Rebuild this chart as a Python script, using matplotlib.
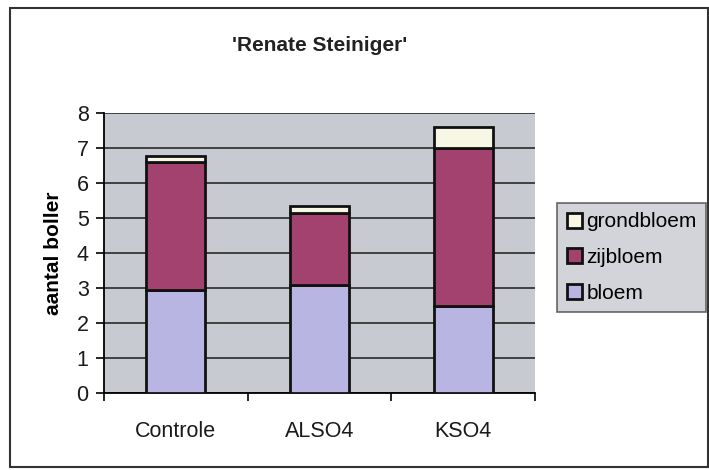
import matplotlib
matplotlib.use("Agg")
import matplotlib.pyplot as plt
import numpy as np
from matplotlib.patches import Rectangle

# data
categories = ["Controle", "ALSO4", "KSO4"]
bloem = [2.95, 3.1, 2.5]
zijbloem = [3.64, 2.03, 4.5]
grondbloem = [0.19, 0.2, 0.6]

plt.rcParams['font.family'] = ['Liberation Sans', 'DejaVu Sans']

fig = plt.figure(figsize=(7.09, 4.70), dpi=100)
ax = fig.add_axes([0.1467, 0.1638, 0.608, 0.5957])
ax.set_facecolor('#c7cad0')

x = np.arange(len(categories))
w = 0.41
bot2 = np.array(bloem) + np.array(zijbloem)
b1 = ax.bar(x, bloem, w, color='#b9b5e2', edgecolor='#111111', linewidth=2, label='bloem', zorder=3)
b2 = ax.bar(x, zijbloem, w, bottom=bloem, color='#a3416f', edgecolor='#111111', linewidth=2, label='zijbloem', zorder=3)
b3 = ax.bar(x, grondbloem, w, bottom=bot2, color='#f8f7e6', edgecolor='#111111', linewidth=2, label='grondbloem', zorder=3)

ax.set_xlim(-0.5, 2.5)
ax.set_ylim(0, 8)
ax.set_yticks(range(0, 9))
ax.yaxis.grid(True, color='#2a2a2a', linewidth=1.2, zorder=0)
ax.set_axisbelow(True)

# categories in the middle, ticks at the edges
ax.set_xticks(x)
ax.set_xticklabels(categories, fontsize=15.5, color='#1a1a1a')
ax.tick_params(axis='x', length=0, pad=20)
ax.set_xticks([-0.5, 0.5, 1.5, 2.5], minor=True)
ax.tick_params(axis='x', which='minor', length=6, width=1.2, direction='out')
ax.tick_params(axis='y', labelsize=15.5, length=6, width=1.2, labelcolor='#1a1a1a', pad=5)

for s in ['top', 'right']:
    ax.spines[s].set_visible(False)
ax.spines['left'].set_linewidth(1.3)
ax.spines['bottom'].set_linewidth(1.3)

ax.set_ylabel('aantal boller', fontsize=15, fontweight='bold', labelpad=10)
ax.set_title("'Renate Steiniger'", fontsize=15, fontweight='bold', color='#222222', pad=45)

leg = fig.legend(handles=[b3, b2, b1], loc='upper left', bbox_to_anchor=(0.786, 0.568),
                 fontsize=15, frameon=True, fancybox=False, borderpad=0.45, borderaxespad=0,
                 handlelength=0.75, handleheight=0.75, handletextpad=0.2, labelspacing=0.8)
leg.get_frame().set_facecolor('#c7cad0')
leg.get_frame().set_edgecolor('#444444')
leg.get_frame().set_linewidth(1.2)

# outer frame of the chart
fig.patches.append(Rectangle((0.014, 0.006), 0.984, 0.978, transform=fig.transFigure,
                             fill=False, edgecolor='#333333', linewidth=1.5))

fig.savefig('out.png', dpi=100)
